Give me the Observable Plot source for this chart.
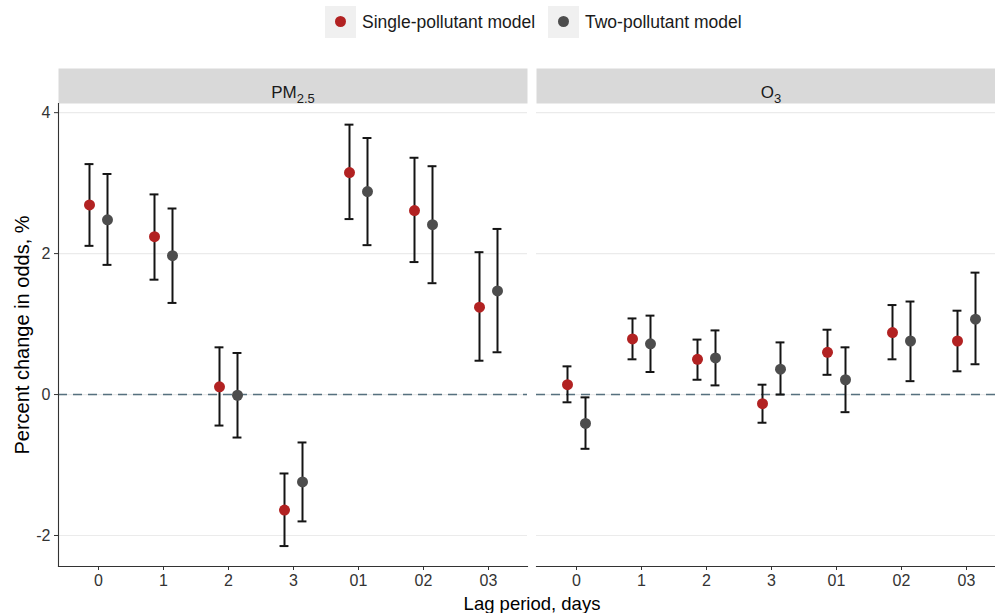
<!DOCTYPE html>
<html><head><meta charset="utf-8">
<script src="https://cdn.jsdelivr.net/npm/d3@7"></script>
<script src="https://cdn.jsdelivr.net/npm/@observablehq/plot@0.6"></script>
<style>
html,body{margin:0;padding:0;background:#fff;overflow:hidden;width:995px;height:613px;}
body{font-family:"Liberation Sans",Arial,sans-serif;}
#legend{height:45px;position:relative;}
.key{position:absolute;top:6px;width:31px;height:32px;background:#f0f0f0;}
.key span{position:absolute;left:10px;top:10px;width:11px;height:11px;border-radius:50%;}
.lab{position:absolute;top:12px;font-size:17.5px;color:#1a1a1a;line-height:20px;white-space:nowrap;}
#chart{width:1005px;overflow:visible;}
#chart svg{display:block;max-width:none !important;}
</style></head>
<body>
<div id="legend"></div>
<div id="chart"></div>
<script>
const lags = ["0","1","2","3","01","02","03"];
const pollutants = ["PM2.5","O3"];
const models = ["Single-pollutant model","Two-pollutant model"];
const colors = ["#b22222","#4d4d4d"];
const yTicks = [-2, 0, 2, 4];

const pmSingleEst = [2.69, 2.24, 0.11, -1.64, 3.15, 2.61, 1.24];
const pmSingleLo  = [2.11, 1.63, -0.44, -2.15, 2.49, 1.88, 0.48];
const pmSingleHi  = [3.27, 2.84, 0.67, -1.12, 3.83, 3.36, 2.02];
const pmTwoEst    = [2.48, 1.97, -0.01, -1.24, 2.88, 2.41, 1.47];
const pmTwoLo     = [1.84, 1.30, -0.61, -1.80, 2.12, 1.58, 0.60];
const pmTwoHi     = [3.13, 2.64, 0.59, -0.68, 3.64, 3.24, 2.35];
const o3SingleEst = [0.14, 0.79, 0.50, -0.13, 0.60, 0.88, 0.76];
const o3SingleLo  = [-0.11, 0.50, 0.21, -0.40, 0.28, 0.50, 0.33];
const o3SingleHi  = [0.40, 1.08, 0.78, 0.14, 0.92, 1.27, 1.19];
const o3TwoEst    = [-0.41, 0.72, 0.52, 0.36, 0.21, 0.76, 1.07];
const o3TwoLo     = [-0.77, 0.32, 0.13, 0.00, -0.25, 0.19, 0.43];
const o3TwoHi     = [-0.04, 1.12, 0.91, 0.74, 0.67, 1.32, 1.73];

const series = [
  [pollutants[0], models[0], pmSingleEst, pmSingleLo, pmSingleHi],
  [pollutants[0], models[1], pmTwoEst, pmTwoLo, pmTwoHi],
  [pollutants[1], models[0], o3SingleEst, o3SingleLo, o3SingleHi],
  [pollutants[1], models[1], o3TwoEst, o3TwoLo, o3TwoHi]
];
const rows = [];
for (const [p, m, e, lo, hi] of series) {
  lags.forEach((lag, i) => rows.push({pollutant: p, model: m, lag, est: e[i], lo: lo[i], hi: hi[i]}));
}
const strips = pollutants.map(p => ({pollutant: p}));

// legend
const legend = document.getElementById("legend");
const keyX = [325, 548], labX = [362, 585];
models.forEach((m, i) => {
  const k = document.createElement("div");
  k.className = "key"; k.style.left = keyX[i] + "px";
  const s = document.createElement("span"); s.style.background = colors[i];
  k.appendChild(s); legend.appendChild(k);
  const t = document.createElement("div");
  t.className = "lab"; t.style.left = labX[i] + "px"; t.textContent = m;
  legend.appendChild(t);
});

const W = 1005, H = 568, mT = 58, mB = 47, mL = 58;
const frameH = H - mT - mB;
const panelW = 469;
const step = panelW / 7.2;
const capInset = (step * 0.8 - 9) / 2;
const dodge = [-9, 9];

const dataMarks = [];
models.forEach((m, i) => {
  const d = rows.filter(r => r.model === m);
  dataMarks.push(
    Plot.ruleX(d, {fx: "pollutant", x: "lag", y1: "lo", y2: "hi", dx: dodge[i], stroke: "#141414", strokeWidth: 2}),
    Plot.tickY(d, {fx: "pollutant", x: "lag", y: "lo", dx: dodge[i], insetLeft: capInset, insetRight: capInset, stroke: "#141414", strokeWidth: 2}),
    Plot.tickY(d, {fx: "pollutant", x: "lag", y: "hi", dx: dodge[i], insetLeft: capInset, insetRight: capInset, stroke: "#141414", strokeWidth: 2}),
    Plot.dot(d, {fx: "pollutant", x: "lag", y: "est", dx: dodge[i], fill: "model", r: 5.5})
  );
});

const chart = Plot.plot({
  width: W, height: H,
  marginLeft: mL, marginRight: 0, marginTop: mT, marginBottom: mB,
  style: {fontFamily: "Liberation Sans, Arial, sans-serif", fontSize: "16px", color: "#333", background: "transparent", maxWidth: "none"},
  fx: {domain: pollutants, paddingInner: 9 / 478, paddingOuter: 0, label: null},
  x: {domain: lags, type: "band", paddingInner: 0.2, paddingOuter: 0.2},
  y: {domain: [-2.44, 4.13]},
  color: {domain: models, range: colors},
  marks: [
    Plot.frame({fill: "#d9d9d9", stroke: null, insetTop: -35, insetBottom: frameH}),
    Plot.text(strips, {fx: "pollutant", text: "pollutant", frameAnchor: "top", dy: -18, fontSize: 17, fill: "#1a1a1a"}),
    Plot.gridY(yTicks, {stroke: "#ebebeb", strokeOpacity: 1, strokeWidth: 1.2}),
    Plot.ruleY([0], {stroke: "#56707e", strokeWidth: 1.5, strokeDasharray: "9,6"}),
    Plot.frame({anchor: "left", facetAnchor: "left", stroke: "#333", strokeWidth: 1.1}),
    Plot.frame({anchor: "bottom", stroke: "#333", strokeWidth: 1.1}),
    Plot.axisY(yTicks, {tickSize: 4, tickPadding: 4, fontSize: 16, stroke: "#333", tickFormat: d => String(d), label: "Percent change in odds, %", labelAnchor: "center", labelOffset: 44, labelArrow: "none"}),
    Plot.axisX({tickSize: 4, tickPadding: 4, fontSize: 16, stroke: "#333", label: null}),
    Plot.axisFx({anchor: "bottom", tickSize: 0, tickFormat: () => "", label: "Lag period, days", labelAnchor: "center", labelOffset: 43, labelArrow: "none"}),
    ...dataMarks
  ]
});
chart.style.maxWidth = "none";
document.getElementById("chart").appendChild(chart);

// subscripts in strip labels, bigger axis titles
chart.querySelectorAll("text").forEach(t => {
  const s = t.textContent;
  if (s === "PM2.5") t.innerHTML = 'PM<tspan dy="5" font-size="13">2.5</tspan>';
  else if (s === "O3") t.innerHTML = 'O<tspan dy="5" font-size="13">3</tspan>';
});
chart.querySelectorAll('[aria-label$="axis label"]').forEach(g => {
  const isY = g.getAttribute("aria-label").startsWith("y");
  const fs = isY ? "20" : "18.5";
  g.setAttribute("font-size", fs);
  g.querySelectorAll("text").forEach(t => { t.setAttribute("font-size", fs); t.setAttribute("fill", "#000"); });
});
</script>
</body></html>
